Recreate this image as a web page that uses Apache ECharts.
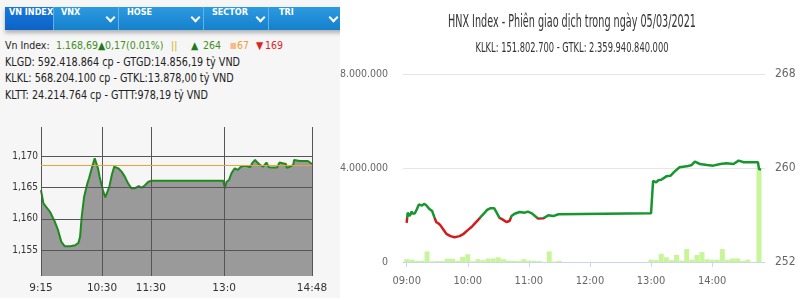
<!DOCTYPE html>
<html><head><meta charset="utf-8">
<script src="https://cdn.jsdelivr.net/npm/echarts@6/dist/echarts.min.js"></script>
<style>
html,body{margin:0;padding:0;width:800px;height:300px;overflow:hidden;background:#fff;}
#panel{position:absolute;left:0;top:0;width:340px;height:298px;background:#f6f6f6;overflow:hidden;}
#tabs{position:absolute;left:5px;top:7px;width:340px;height:23px;background:linear-gradient(#2c9ae0,#1580cc);box-shadow:0 3px 4px rgba(0,0,0,0.28);}
.tab{position:absolute;top:0;height:23px;line-height:23px;color:#fff;font:bold 9px "DejaVu Sans Condensed","DejaVu Sans",sans-serif;}
.sel{position:absolute;left:0;top:0;width:48px;height:23px;background:linear-gradient(#1a78da,#0c63c6);}
.sep{position:absolute;top:0;width:1px;height:23px;background:#5fb3ea;}
.chev{position:absolute;top:7px;width:5px;height:5px;border-right:2px solid #fff;border-bottom:2px solid #fff;transform:rotate(45deg);}
#l1{position:absolute;left:0;top:37px;height:17px;width:340px;font:10.5px "DejaVu Sans Condensed","DejaVu Sans",sans-serif;color:#222;line-height:17px;white-space:nowrap;}
#l1 span{position:absolute;top:0;}
#info{position:absolute;left:5px;top:53.7px;font:11.5px "DejaVu Sans Condensed","DejaVu Sans",sans-serif;color:#222;line-height:16.7px;transform-origin:0 0;white-space:nowrap;}
.g{color:#3f8f1e}.dg{color:#1c7a1c}.y{color:#c8b41e}.o{color:#f0a028}.sq{color:#f8b890}.r{color:#e41e1e}
#chart{position:absolute;left:0;top:0;width:800px;height:300px;}
</style></head>
<body>
<div id="panel">
  <div id="tabs">
    <div class="sel"></div>
    <div class="tab" style="left:4px">VN INDEX</div>
    <div class="sep" style="left:48px"></div>
    <div class="tab" style="left:56px">VNX</div>
    <div class="chev" style="left:102px"></div>
    <div class="sep" style="left:113px"></div>
    <div class="tab" style="left:122px">HOSE</div>
    <div class="chev" style="left:187px"></div>
    <div class="sep" style="left:198px"></div>
    <div class="tab" style="left:207px">SECTOR</div>
    <div class="chev" style="left:252px"></div>
    <div class="sep" style="left:263px"></div>
    <div class="tab" style="left:274px">TRI</div>
    <div class="chev" style="left:325px"></div>
  </div>
  <div id="l1">
    <span style="left:5px">Vn Index:</span>
    <span class="g" style="left:56px">1.168,69</span>
    <span class="dg" style="left:98px">▲</span>
    <span class="g" style="left:105px">0,17(0.01%)</span>
    <span class="y" style="left:171px">||</span>
    <span class="dg" style="left:191px">▲</span>
    <span class="g" style="left:203px">264</span>
    <span class="sq" style="left:230px;font-size:8px">■</span>
    <span class="o" style="left:237px">67</span>
    <span class="r" style="left:256px">▼</span>
    <span class="r" style="left:265px">169</span>
  </div>
  <div id="info">
    <div id="l2">KLGD: 592.418.864 cp - GTGD:14.856,19 tỷ VND</div>
    <div id="l3">KLKL: 568.204.100 cp - GTKL:13.878,00 tỷ VND</div>
    <div id="l4">KLTT: 24.214.764 cp - GTTT:978,19 tỷ VND</div>
  </div>
</div>
<div id="chart"></div>
<script>
// ---- Left chart (VN Index) ----
const leftTimes = ['9:15','9:18','9:26','9:32','9:36','9:40','9:44','9:51','9:57','10:01','10:03','10:05','10:08','10:12','10:14','10:16','10:18','10:21','10:23','10:25','10:27','10:31','10:34','10:36','10:39','10:42','10:45','10:47','10:50','10:54','10:58','11:02','11:06','11:10','11:15','11:19','11:23','11:27','11:31','12:59','13:01','13:03','13:06','13:09','13:13','13:17','13:20','13:23','13:28','13:30','13:32','13:35','13:38','13:41','13:44','13:48','13:52','13:55','14:00','14:05','14:08','14:12','14:16','14:17','14:21','14:25','14:26','14:33','14:43','14:48'];
const leftValues = [1164.57,1162.45,1161.12,1159.52,1158.19,1156.33,1155.64,1155.64,1155.80,1156.17,1157.13,1160.32,1163.51,1165.64,1166.44,1166.44,1168.30,1169.63,1169.36,1168.03,1166.70,1164.57,1163.40,1163.09,1165.11,1166.97,1168.30,1168.19,1168.03,1167.50,1166.70,1165.64,1164.84,1164.84,1165.21,1164.95,1165.37,1165.90,1166.06,1166.06,1164.84,1165.90,1166.17,1167.23,1168.03,1167.77,1168.19,1168.40,1168.40,1168.56,1168.19,1168.94,1169.36,1168.94,1168.56,1168.30,1168.94,1168.19,1168.14,1168.14,1168.94,1168.83,1168.72,1168.09,1168.30,1168.56,1169.36,1169.20,1169.20,1168.72];
const leftRef = 1168.52;
const leftXTicks = ['9:15','10:30','11:30','13:0','14:48'];
const leftYTicks = [1155,1160,1165,1170];

// ---- Right chart (HNX Index) ----
const rightTimes = ['9:00','9:01','9:03','9:05','9:06','9:08','9:10','9:12','9:13','9:15','9:17','9:19','9:20','9:22','9:25','9:27','9:29','9:31','9:33','9:36','9:39','9:43','9:47','9:52','9:56','10:00','10:04','10:07','10:10','10:13','10:16','10:19','10:22','10:26','10:28','10:31','10:34','10:38','10:41','10:43','10:46','10:51','10:56','10:59','11:03','11:06','11:09','11:14','11:17','11:19','11:24','11:29','11:30','13:00','13:01','13:02','13:05','13:07','13:10','13:15','13:19','13:23','13:28','13:35','13:40','13:43','13:48','13:55','14:01','14:08','14:14','14:21','14:26','14:31','14:45','14:46','14:48'];
const rightValues = [255.34,256.2,255.91,256.3,256.1,256.14,256.49,256.9,257.0,256.8,256.95,256.85,256.91,256.54,256.34,255.86,255.4,255.3,255.14,254.77,254.4,254.2,254.11,254.2,254.4,254.71,255.0,255.29,255.57,255.86,256.14,256.43,256.57,256.57,256.26,255.77,255.63,255.4,255.49,255.91,256.11,256.26,256.2,256.29,256.14,255.91,255.7,255.72,255.86,255.97,255.91,256.06,256.14,256.14,256.06,258.91,258.77,258.95,259.0,259.29,259.34,259.69,260.06,260.14,260.26,260.54,260.34,260.26,260.2,260.34,260.4,260.34,260.63,260.49,260.49,259.91,259.86];
const rightRef = 255.75;
const volTimes = ['9:00','9:05','9:10','9:15','9:20','9:25','9:30','9:35','9:40','9:45','9:50','9:55','10:00','10:05','10:10','10:15','10:20','10:25','10:30','10:35','10:40','10:45','10:50','10:55','11:00','11:05','11:10','11:20','11:25','11:30','13:00','13:05','13:10','13:15','13:20','13:25','13:30','13:35','13:40','13:45','13:50','13:55','14:00','14:05','14:10','14:15','14:20','14:25','14:30','14:35','14:46'];
const volValues = [120000,100000,50000,50000,450000,30000,40000,40000,140000,140000,50000,220000,330000,30000,120000,80000,150000,150000,200000,120000,60000,50000,40000,120000,60000,50000,40000,450000,20000,50000,100000,80000,350000,200000,80000,300000,60000,550000,100000,300000,420000,120000,100000,100000,550000,100000,150000,150000,50000,100000,3950000];
const rightXTicks = ['09:00','10:00','11:00','12:00','13:00','14:00'];
const volTicks = [0,4000000,8000000];
const idxTicks = [252,260,268];

const titleText = 'HNX Index - Phiên giao dịch trong ngày 05/03/2021';
const subText = 'KLKL: 151.802.700 - GTKL: 2.359.940.840.000';

function toMin(s){const p=s.split(':');return (+p[0])*60+(+p[1]);}
function pairs(ts,vs){return ts.map((t,i)=>[toMin(t),vs[i]]);}

// fit header text block
(function(){
  const l2=document.getElementById('l2');
  l2.style.display='inline-block';
  const w=l2.getBoundingClientRect().width;
  l2.style.display='';
  document.getElementById('info').style.transform='scaleX('+(235/w)+')';
})();

const narrow='"Liberation Sans Narrow","DejaVu Sans Condensed",sans-serif';
const mctx=document.createElement('canvas').getContext('2d');
function fitScale(text,font,target){mctx.font=font;return target/mctx.measureText(text).width;}
const tFont='17px '+narrow, sFont='14px '+narrow;

const leftXLabelMap={};leftXTicks.forEach(t=>leftXLabelMap[toMin(t)]=t);
const rightXLabelMap={};rightXTicks.forEach(t=>rightXLabelMap[toMin(t)]=t);
function dots(v){return String(v).replace(/\B(?=(\d{3})+(?!\d))/g,'.');}

const chart=echarts.init(document.getElementById('chart'),null,{renderer:'canvas'});
const leftData=pairs(leftTimes,leftValues);
const rightGrid={left:403,top:74,width:362,height:188};
chart.setOption({
  animation:false,
  backgroundColor:'transparent',
  grid:[
    {left:41,top:127,width:271,height:149},
    rightGrid
  ],
  xAxis:[
    {gridIndex:0,type:'value',min:toMin(leftXTicks[0]),max:toMin(leftXTicks[leftXTicks.length-1]),
     axisLine:{show:false},axisTick:{show:false},splitLine:{show:false},
     axisLabel:{customValues:leftXTicks.map(toMin),formatter:v=>leftXLabelMap[v]||'',color:'#333',fontSize:10.5,fontFamily:'DejaVu Sans',margin:7}},
    {gridIndex:1,type:'value',min:536.4,max:891.9,
     axisLine:{show:true,lineStyle:{color:'#ccd6eb',width:1}},
     axisTick:{show:true,customValues:rightXTicks.map(toMin),length:5,lineStyle:{color:'#ccd6eb'}},
     splitLine:{show:false},
     axisLabel:{customValues:rightXTicks.map(toMin),formatter:v=>rightXLabelMap[v]||'',color:'#666',fontSize:11,fontFamily:narrow,margin:14}}
  ],
  yAxis:[
    {gridIndex:0,type:'value',min:1150.9,max:1174.6,axisLine:{show:false},axisTick:{show:false},splitLine:{show:false},
     axisLabel:{customValues:leftYTicks,formatter:v=>dots(v).replace('.',','),color:'#333',fontSize:10,fontFamily:'DejaVu Sans Condensed',margin:3}},
    {gridIndex:1,type:'value',min:volTicks[0],max:volTicks[2],interval:volTicks[1],position:'left',
     axisLine:{show:false},axisTick:{show:false},splitLine:{show:true,lineStyle:{color:'#e6e6e6',width:1}},
     axisLabel:{formatter:v=>dots(v),color:'#666',fontSize:10.5,fontFamily:narrow,margin:15}},
    {gridIndex:1,type:'value',min:idxTicks[0],max:idxTicks[2],interval:idxTicks[1]-idxTicks[0],position:'right',
     axisLine:{show:false},axisTick:{show:false},splitLine:{show:false},
     axisLabel:{color:'#666',fontSize:12,fontFamily:narrow,margin:10}}
  ],
  graphic:[
    {type:'text',x:572,y:23,scaleX:fitScale(titleText,tFont,248),style:{text:titleText,font:tFont,fill:'#333',align:'center',verticalAlign:'middle'}},
    {type:'text',x:572,y:48,scaleX:fitScale(subText,sFont,193),style:{text:subText,font:sFont,fill:'#333',align:'center',verticalAlign:'middle'}}
  ],
  series:[
    {type:'line',xAxisIndex:0,yAxisIndex:0,data:leftData,symbol:'none',z:1,
     lineStyle:{width:0},areaStyle:{color:'#9a9a9a',opacity:1,origin:'start'},silent:true},
    {type:'line',xAxisIndex:0,yAxisIndex:0,data:[[toMin(leftXTicks[0]),leftYTicks[0]]],symbol:'none',z:2,lineStyle:{opacity:0},silent:true,
     markLine:{silent:true,symbol:'none',label:{show:false},animation:false,
       data:[].concat(
         leftXTicks.map(t=>({xAxis:toMin(t),lineStyle:{color:'#555',width:1,type:'solid'}})),
         leftYTicks.map(v=>({yAxis:v,lineStyle:{color:'#555',width:1,type:'solid'}})),
         [{yAxis:leftRef,lineStyle:{color:'#e8a33a',width:1,type:'solid'}}]
       )}},
    {type:'line',xAxisIndex:0,yAxisIndex:0,data:leftData,symbol:'none',z:3,
     lineStyle:{color:'#1f8b1f',width:2}},
    {type:'bar',xAxisIndex:1,yAxisIndex:1,data:pairs(volTimes,volValues),barWidth:5,
     itemStyle:{color:'#c8f59a'},z:1},
    {id:'hnx',type:'line',xAxisIndex:1,yAxisIndex:2,data:pairs(rightTimes,rightValues),symbol:'none',z:3,
     lineStyle:{width:2.5,color:'#16962e'}}
  ]
});
// colour the HNX line red below the reference level, green above
const yRef=chart.convertToPixel({yAxisIndex:2},rightRef);
const yTop=rightGrid.top, yBot=rightGrid.top+rightGrid.height;
const f=(yRef-yTop)/(yBot-yTop);
chart.setOption({series:[{id:'hnx',lineStyle:{color:new echarts.graphic.LinearGradient(0,yTop,0,yBot,[
  {offset:0,color:'#16962e'},{offset:f,color:'#16962e'},{offset:f,color:'#d41b1b'},{offset:1,color:'#d41b1b'}],true)}}]});
</script>
</body></html>
